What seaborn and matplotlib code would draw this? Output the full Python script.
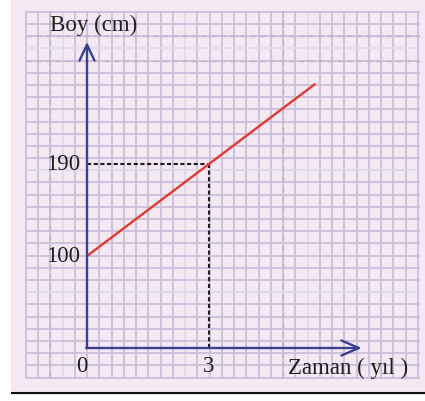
import matplotlib
matplotlib.use("Agg")
import matplotlib.pyplot as plt
from matplotlib.patches import Rectangle
import seaborn as sns
import pandas as pd

# Height over time
years = [0, 3, 5.6]
heights = [100, 190, 268]

x_tick_values = [0, 3]
x_tick_labels = ["0", "3"]
y_tick_values = [100, 190]
y_tick_labels = ["100", "190"]

x_label = "Zaman ( yıl )"
y_label = "Boy (cm)"

sns.set_theme(style="white")
plt.rcParams["font.family"] = ["Liberation Serif", "DejaVu Serif"]

W, H = 425, 401
fig = plt.figure(figsize=(W / 100, H / 100), dpi=100)
fig.patch.set_facecolor("white")

# --- graph-paper background (pixel coordinates) ---
bg = fig.add_axes([0, 0, 1, 1])
bg.set_xlim(0, W)
bg.set_ylim(H, 0)
bg.axis("off")
bg.add_patch(Rectangle((11, 0), W - 11, 391, facecolor="#f4e9f3", edgecolor="none", zorder=0))
bg.plot([11, W], [392.5, 392.5], color="#111111", lw=1.6, zorder=1, solid_capstyle="butt")

grid_col = "#cbc0dc"
light_col = "#e0daee"
vx = [26 + 12.25 * k for k in range(33)]
hy = [11.7 + 12.2 * k for k in range(31)]
for i, x in enumerate(vx):
    c = light_col if i in (3, 13, 23) else grid_col
    bg.vlines(x, 11, 378, color=c, lw=1.3, zorder=1)
for i, y in enumerate(hy):
    c = light_col if i in (3, 13, 23) else grid_col
    bg.hlines(y, 26, 420, color=c, lw=1.3, zorder=1)
# faint dashed guides on the paper
for x in (vx[2], vx[21]):
    bg.vlines(x, 11, 378, color="#bfb2cc", lw=1.0, linestyles=(0, (4, 3)), zorder=1)
for y in (hy[2], hy[4]):
    bg.hlines(y, 26, 420, color="#bfb2cc", lw=1.0, linestyles=(0, (4, 3)), zorder=1)

# --- chart in data coordinates ---
px_per_year = 40.667
px_per_cm = 1.0222
x0_px, y100_px = 87, 256
ax = fig.add_axes([0, 0, 1, 1])
ax.patch.set_alpha(0)
ax.set_xlim(-x0_px / px_per_year, (W - x0_px) / px_per_year)
ax.set_ylim(100 - (H - y100_px) / px_per_cm, 100 + y100_px / px_per_cm)
ax.axis("off")

axis_col = "#3c3f8f"
x_axis_level = 10
y_axis_top = 309.4
x_axis_end = 6.76

ax.annotate("", xy=(0, y_axis_top), xytext=(0, x_axis_level),
            arrowprops=dict(arrowstyle="->,head_length=0.95,head_width=0.45",
                            color=axis_col, lw=1.7, shrinkA=0, shrinkB=0))
ax.annotate("", xy=(x_axis_end, x_axis_level), xytext=(-0.02, x_axis_level),
            arrowprops=dict(arrowstyle="->,head_length=1.05,head_width=0.45",
                            color=axis_col, lw=1.7, shrinkA=0, shrinkB=0))

# guide lines to the marked point
xm, ym = years[1], heights[1]
ax.plot([0, xm], [ym, ym], color="#1e1e1e", lw=1.5, linestyle=(0, (2.0, 1.2)))
ax.plot([xm, xm], [x_axis_level, ym], color="#1e1e1e", lw=1.5, linestyle=(0, (2.0, 1.2)))

df = pd.DataFrame({"yil": years, "boy": heights})
sns.lineplot(data=df, x="yil", y="boy", ax=ax, color="#e5392d", lw=1.7)
ax.axis("off")

txt = dict(color="#1e1e1e", fontsize=16.5)
for v, lab in zip(y_tick_values, y_tick_labels):
    ax.text(-0.18, v, lab, ha="right", va="center", **txt)
for v, lab in zip(x_tick_values, x_tick_labels):
    ax.text(v - (0.12 if v == 0 else 0), -8.5, lab, ha="center", va="center", **txt)
ax.text(6.41, -9.6, x_label, ha="center", va="center", **txt)
ax.text(0.17, 326, y_label, ha="center", va="center", **txt)

fig.savefig("out.png", dpi=100)
